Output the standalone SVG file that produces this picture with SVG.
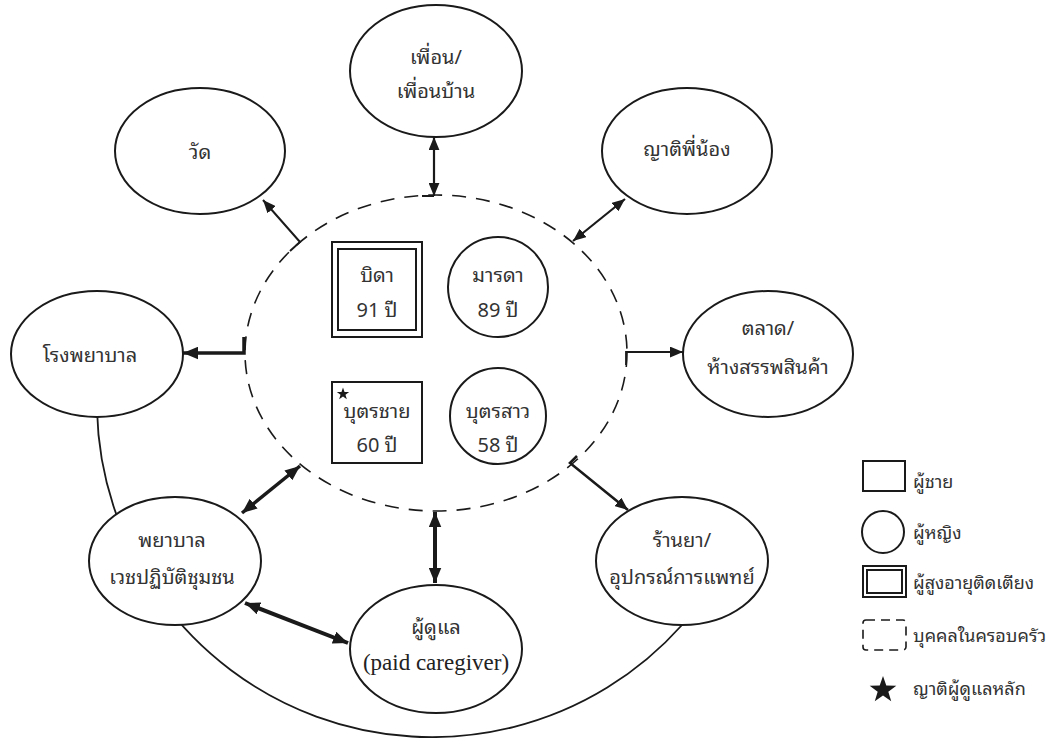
<svg xmlns="http://www.w3.org/2000/svg" width="1051" height="738" viewBox="0 0 1051 738">
<style>
.n{fill:#fff;stroke:#1a1a1a;stroke-width:2}
.t{font-family:"Noto Sans Thai Looped","Noto Serif Thai","Noto Sans Thai","Noto Sans","DejaVu Sans",sans-serif;font-size:20px;fill:#333;text-anchor:middle}
.tl{font-family:"Noto Sans Thai Looped","Noto Serif Thai","Noto Sans Thai","Noto Sans","DejaVu Sans",sans-serif;font-size:18px;fill:#333}
.e{font-family:"Liberation Serif",serif;font-size:23px;fill:#222;text-anchor:middle}
.c{fill:none;stroke:#1a1a1a}
.dash{fill:none;stroke:#1a1a1a;stroke-width:1.6;stroke-dasharray:14 10}
</style>
<defs>
<marker id="a1" viewBox="0 0 12 10" refX="12" refY="5" markerWidth="13" markerHeight="11" markerUnits="userSpaceOnUse" orient="auto-start-reverse"><path d="M0,0 L12,5 L0,10 Z" fill="#1a1a1a"/></marker>
<marker id="a2" viewBox="0 0 12 10" refX="12" refY="5" markerWidth="15" markerHeight="13" markerUnits="userSpaceOnUse" orient="auto-start-reverse"><path d="M0,0 L12,5 L0,10 Z" fill="#1a1a1a"/></marker>
<path id="star" d="M0,-10 L2.35,-3.24 L9.51,-3.09 L3.8,1.24 L5.88,8.09 L0,4 L-5.88,8.09 L-3.8,1.24 L-9.51,-3.09 L-2.35,-3.24 Z"/>
</defs>
<rect width="1051" height="738" fill="#fff"/>

<g id="connectors">
<path class="c" stroke-width="1.8" d="M97,410 A335,335 0 0 0 682,625"/>
<ellipse class="dash" cx="436" cy="353" rx="191" ry="158"/>
<path class="c" stroke-width="2" d="M290,251 L300,242 L263,200" marker-end="url(#a1)"/>
<path class="c" stroke-width="2" d="M422,196 L434,196"/>
<line class="c" stroke-width="2.2" x1="434" y1="196" x2="434" y2="137" marker-start="url(#a1)" marker-end="url(#a1)"/>
<line class="c" stroke-width="2.2" x1="573" y1="241" x2="625" y2="199" marker-start="url(#a1)" marker-end="url(#a1)"/>
<path class="c" stroke-width="1.8" d="M626,365 L626,352 L683,352" marker-end="url(#a1)"/>
<path class="c" stroke-width="2.6" d="M577,456 L570,463 L628,510" marker-end="url(#a1)"/>
<path class="c" stroke-width="3.5" d="M244,337 L244,353 L183,353" marker-end="url(#a2)"/>
<line class="c" stroke-width="3.5" x1="300" y1="466" x2="242" y2="513" marker-start="url(#a2)" marker-end="url(#a2)"/>
<line class="c" stroke-width="4" x1="435" y1="512" x2="435" y2="583" marker-start="url(#a2)" marker-end="url(#a2)"/>
<line class="c" stroke-width="4" x1="245" y1="603" x2="348" y2="643" marker-start="url(#a2)" marker-end="url(#a2)"/>
</g>

<g id="wat"><ellipse class="n" cx="200" cy="151" rx="85" ry="63"/><text class="t" x="200" y="159">วัด</text></g>
<g id="friends"><ellipse class="n" cx="436" cy="71" rx="86" ry="66"/><text class="t" x="436" y="64">เพื่อน/</text><text class="t" x="436" y="98">เพื่อนบ้าน</text></g>
<g id="relatives"><ellipse class="n" cx="687" cy="151" rx="85" ry="63"/><text class="t" x="687" y="156">ญาติพี่น้อง</text></g>
<g id="market"><ellipse class="n" cx="768" cy="354" rx="85" ry="63"/><text class="t" x="768" y="335">ตลาด/</text><text class="t" x="768" y="374">ห้างสรรพสินค้า</text></g>
<g id="hospital"><ellipse class="n" cx="97" cy="354" rx="86" ry="63"/><text class="t" x="90" y="362">โรงพยาบาล</text></g>
<g id="nurse"><ellipse class="n" cx="175" cy="561" rx="86" ry="64"/><text class="t" x="172" y="547">พยาบาล</text><text class="t" x="172" y="584">เวชปฏิบัติชุมชน</text></g>
<g id="caregiver"><ellipse class="n" cx="436" cy="649" rx="86" ry="64"/><text class="t" x="436" y="634">ผู้ดูแล</text><text class="e" x="436" y="670">(paid caregiver)</text></g>
<g id="pharmacy"><ellipse class="n" cx="682" cy="561" rx="86" ry="64"/><text class="t" x="682" y="547">ร้านยา/</text><text class="t" x="682" y="584">อุปกรณ์การแพทย์</text></g>

<g id="father"><rect class="n" x="332" y="242" width="90" height="95"/><rect class="n" x="338" y="249" width="78" height="81"/><text class="t" x="377" y="282">บิดา</text><text class="t" x="377" y="317">91 ปี</text></g>
<g id="mother"><circle class="n" cx="498" cy="287" r="50"/><text class="t" x="498" y="282">มารดา</text><text class="t" x="498" y="317">89 ปี</text></g>
<g id="son"><rect class="n" x="332" y="382" width="90" height="81"/><use href="#star" transform="translate(343 394) scale(0.65)" fill="#1a1a1a"/><text class="t" x="377" y="418">บุตรชาย</text><text class="t" x="377" y="452">60 ปี</text></g>
<g id="daughter"><circle class="n" cx="498" cy="416" r="48"/><text class="t" x="498" y="418">บุตรสาว</text><text class="t" x="498" y="452">58 ปี</text></g>

<g id="legend">
<rect class="n" x="863" y="461" width="42" height="30"/><text class="tl" x="913" y="488">ผู้ชาย</text>
<circle class="n" cx="883" cy="532" r="21"/><text class="tl" x="913" y="539">ผู้หญิง</text>
<rect class="n" x="863" y="566" width="43" height="31"/><rect class="n" x="867" y="570" width="35" height="23"/><text class="tl" x="913" y="589">ผู้สูงอายุติดเตียง</text>
<rect x="863" y="620" width="43" height="30" rx="3" fill="none" stroke="#1a1a1a" stroke-width="1.6" stroke-dasharray="9 6"/><text class="tl" x="913" y="642">บุคคลในครอบครัว</text>
<use href="#star" transform="translate(883 690) scale(1.4)" fill="#1a1a1a"/><text class="tl" x="913" y="695">ญาติผู้ดูแลหลัก</text>
</g>
</svg>
